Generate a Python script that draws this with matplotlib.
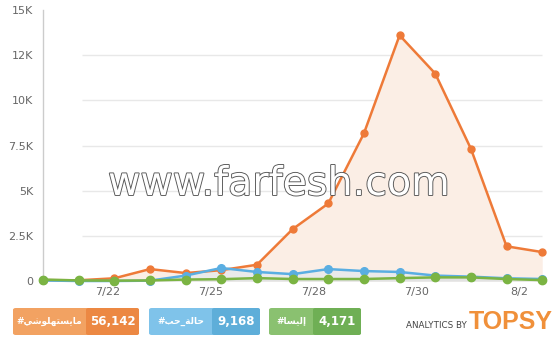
import matplotlib.pyplot as plt
import matplotlib.patheffects as pe
from matplotlib.patches import FancyBboxPatch

# daily mentions, 7/20 .. 8/3
days = ['7/20', '7/21', '7/22', '7/23', '7/24', '7/25', '7/26', '7/27',
        '7/28', '7/29', '7/30', '7/31', '8/1', '8/2', '8/3']
orange_vals = [50, 40, 150, 660, 440, 600, 900, 2870, 4290, 8170, 13600,
               11480, 7320, 1920, 1600]
blue_vals = [30, 0, 0, 20, 300, 720, 500, 380, 660, 550, 500, 300, 240,
             150, 110]
green_vals = [80, 30, 20, 30, 80, 100, 160, 110, 110, 110, 160, 200, 200,
              110, 50]

xtick_pos = [1.8, 4.69, 7.58, 10.47, 13.36]
xtick_labels = ['7/22', '7/25', '7/28', '7/30', '8/2']
ytick_vals = [0, 2500, 5000, 7500, 10000, 12500, 15000]
ytick_labels = ['0', '2.5K', '5K', '7.5K', '10K', '12K', '15K']

# arabic hashtags, already shaped and in visual order
legend_tags = ['#\uFEF2\uFEB7\uFEEE\uFEE0\uFEEC\uFE98\uFEB4\uFEF3\uFE8E\uFEE3',
               '#\uFE90\uFEA3_\uFE94\uFEDF\uFE8E\uFEA3',
               '#\uFE8E\uFEB4\uFEF4\uFEDF\uFE87']
legend_totals = ['56,142', '9,168', '4,171']

c_orange = '#EE7A38'
c_blue = '#5AAEE2'
c_green = '#7BB443'

x = list(range(len(days)))

fig = plt.figure(figsize=(5.6, 3.59), dpi=100)
ax = fig.add_axes([43 / 560, 78 / 359, 501 / 560, 271 / 359])

ax.fill_between(x, orange_vals, color='#FBEEE5', lw=0, zorder=1)
ax.fill_between(x, blue_vals, color='#EAEAEA', lw=0, zorder=2)
ax.fill_between(x, green_vals, color='#E2E2E2', lw=0, zorder=2)

ax.hlines(ytick_vals[1:-1], 1.09, 14.0, color='#E8E8E8', lw=1, zorder=0.5)

ax.plot(x, orange_vals, color=c_orange, lw=1.8, marker='o', ms=5,
        zorder=5, clip_on=False)
ax.plot(x, blue_vals, color=c_blue, lw=1.8, marker='o', ms=5.5,
        zorder=6, clip_on=False)
ax.plot(x, green_vals, color=c_green, lw=1.8, marker='o', ms=6,
        zorder=7, clip_on=False)

ax.set_xlim(0, 14.05)
ax.set_ylim(0, 15000)
ax.set_xticks(xtick_pos)
ax.set_xticklabels(xtick_labels)
ax.set_yticks(ytick_vals)
ax.set_yticklabels(ytick_labels)
ax.tick_params(axis='both', length=0, labelsize=8, labelcolor='#666666')
ax.tick_params(axis='y', pad=7)
ax.tick_params(axis='x', pad=4)
for s in ['top', 'right', 'bottom']:
    ax.spines[s].set_visible(False)
ax.spines['left'].set_color('#CCCCCC')
ax.spines['left'].set_linewidth(1)
ax.patch.set_alpha(0)

# legend boxes
boxes = [(13, 86, 139, '#F2A262', '#EC8843'),
         (149, 212, 260, '#7FC3EA', '#5EAED9'),
         (269, 313, 361, '#8AC170', '#6FAF55')]
y0, y1 = 308, 335
for (l, m, r, light, dark), tag, tot in zip(boxes, legend_tags, legend_totals):
    for a, b, col in [(l, r, light), (m, r, dark)]:
        p = FancyBboxPatch((a / 560, (359 - y1) / 359), (b - a) / 560,
                           (y1 - y0) / 359,
                           boxstyle='round,pad=0,rounding_size=0.005',
                           transform=fig.transFigure, fc=col, ec='none')
        fig.add_artist(p)
    yc = (359 - (y0 + y1) / 2) / 359
    fig.text((l + m) / 2 / 560, yc, tag, color='white', fontsize=6.5,
             fontweight='bold', ha='center', va='center',
             family=['DejaVu Sans'])
    fig.text((m + r) / 2 / 560, yc, tot, color='white', fontsize=8.5,
             fontweight='bold', ha='center', va='center')

fig.text(467 / 560, (359 - 328) / 359, 'ANALYTICS BY', color='#444444',
         fontsize=6.3, ha='right', va='baseline')
fig.text(469 / 560, (359 - 329) / 359, 'TOPSY', color='#F0903A',
         fontsize=18, fontweight='bold', ha='left', va='baseline',
         family='Liberation Sans')

# watermark
fig.text(279 / 560, (359 - 195) / 359, 'www.farfesh.com', color='white',
         fontsize=28.5, ha='center', va='baseline', zorder=20,
         path_effects=[pe.Stroke(linewidth=1.3, foreground='#555555'),
                       pe.Normal()])

fig.savefig('out.png', dpi=100)
